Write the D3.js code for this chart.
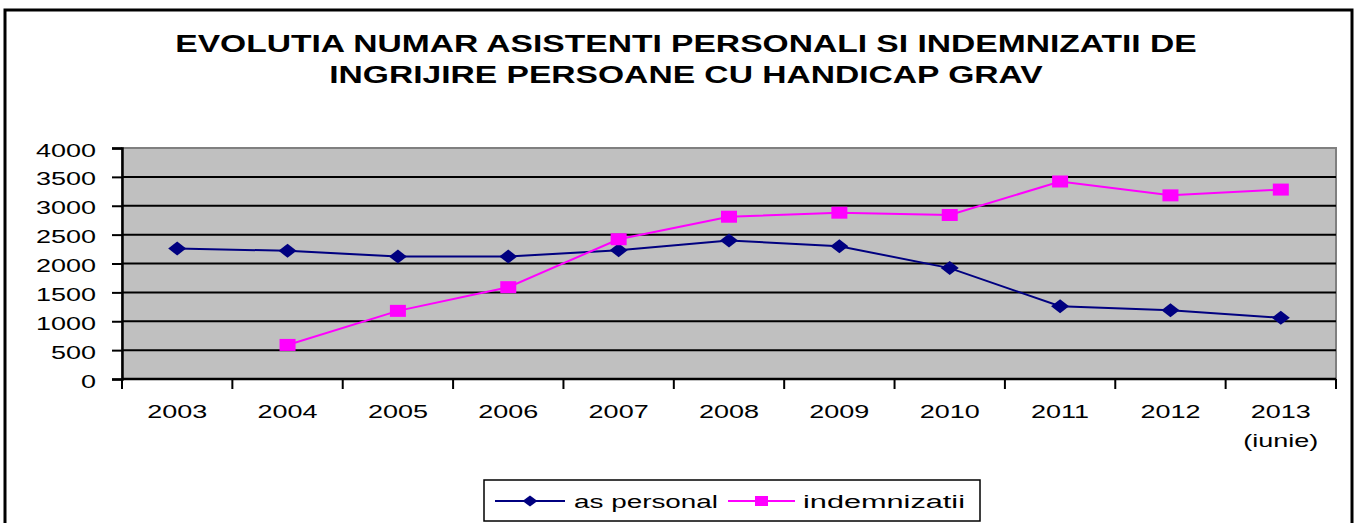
<!DOCTYPE html>
<html>
<head>
<meta charset="utf-8">
<script src="https://cdn.jsdelivr.net/npm/d3@7"></script>
<style>
  html, body { margin: 0; padding: 0; background: #ffffff; }
  svg { display: block; font-family: "Liberation Sans", Arial, sans-serif; }
</style>
</head>
<body>
<svg id="chart" width="1360" height="523"></svg>
<script>
// ---- data ----
const categories = ["2003", "2004", "2005", "2006", "2007", "2008", "2009", "2010", "2011", "2012", "2013"];
const categoryLabels = [["2003"], ["2004"], ["2005"], ["2006"], ["2007"], ["2008"], ["2009"], ["2010"], ["2011"], ["2012"], ["2013", "(iunie)"]];
const asPersonal = [2260, 2220, 2120, 2120, 2230, 2400, 2300, 1920, 1260, 1190, 1060];
const indemnizatii = [null, 590, 1180, 1590, 2420, 2810, 2880, 2840, 3420, 3180, 3280];
const yTicks = [0, 500, 1000, 1500, 2000, 2500, 3000, 3500, 4000];
const titleLines = ["EVOLUTIA NUMAR ASISTENTI PERSONALI SI INDEMNIZATII DE", "INGRIJIRE PERSOANE CU HANDICAP GRAV"];
const seriesNames = ["as personal", "indemnizatii"];

// ---- layout ----
const plot = { left: 122, right: 1336, top: 148, bottom: 379 };
const SX = 1.5; // horizontal text stretch of the reference

const svg = d3.select("#chart");

// outer chart border
svg.append("rect")
  .attr("x", 5).attr("y", 10)
  .attr("width", 1347).attr("height", 540)
  .attr("fill", "#fff").attr("stroke", "#000").attr("stroke-width", 3);

// title
titleLines.forEach((t, i) => {
  svg.append("text")
    .attr("transform", `translate(686, ${52 + i * 31}) scale(1.4,1)`)
    .attr("text-anchor", "middle")
    .attr("font-size", 24)
    .attr("font-weight", "bold")
    .attr("fill", "#000")
    .text(t);
});

// scales
const x = d3.scaleBand().domain(categories).range([plot.left, plot.right]).padding(0);
const y = d3.scaleLinear().domain([0, 4000]).range([plot.bottom, plot.top]);

// plot background
svg.append("rect")
  .attr("x", plot.left).attr("y", plot.top)
  .attr("width", plot.right - plot.left).attr("height", plot.bottom - plot.top)
  .attr("fill", "#c0c0c0").attr("stroke", "#808080").attr("stroke-width", 2);

// gridlines
svg.append("g").selectAll("line")
  .data(yTicks.filter(v => v > 0 && v < 4000))
  .join("line")
  .attr("x1", plot.left).attr("x2", plot.right)
  .attr("y1", d => y(d)).attr("y2", d => y(d))
  .attr("stroke", "#000").attr("stroke-width", 2);

// y axis
const yAxis = svg.append("g")
  .attr("transform", `translate(${plot.left},0)`)
  .call(d3.axisLeft(y).tickValues(yTicks).tickSize(10).tickFormat(d3.format("d")));
yAxis.select(".domain").attr("stroke", "#000").attr("stroke-width", 2.5);
yAxis.selectAll(".tick line").attr("stroke", "#000").attr("stroke-width", 2);
yAxis.selectAll(".tick text")
  .attr("x", null).attr("dy", null)
  .attr("transform", `translate(-26,8) scale(${SX},1)`)
  .attr("text-anchor", "end")
  .attr("font-size", 18)
  .attr("font-family", "Liberation Sans, Arial, sans-serif")
  .attr("fill", "#000");

// x axis (ticks at category boundaries)
const xAxisG = svg.append("g");
xAxisG.append("line")
  .attr("x1", plot.left).attr("x2", plot.right)
  .attr("y1", plot.bottom).attr("y2", plot.bottom)
  .attr("stroke", "#000").attr("stroke-width", 2.5);
const boundaries = categories.map(c => x(c)).concat([x(categories[categories.length - 1]) + x.bandwidth()]);
xAxisG.selectAll("line.tk")
  .data(boundaries)
  .join("line").attr("class", "tk")
  .attr("x1", d => d).attr("x2", d => d)
  .attr("y1", plot.bottom).attr("y2", plot.bottom + 10)
  .attr("stroke", "#000").attr("stroke-width", 2);
categories.forEach((c, i) => {
  categoryLabels[i].forEach((t, j) => {
    xAxisG.append("text")
      .attr("transform", `translate(${x(c) + x.bandwidth() / 2}, ${418 + j * 29}) scale(${SX},1)`)
      .attr("text-anchor", "middle")
      .attr("font-size", 18)
      .attr("fill", "#000")
      .text(t);
  });
});

const cx = c => x(c) + x.bandwidth() / 2;

// markers
const diamond = (w, h) => `M${-w / 2},0L0,${-h / 2}L${w / 2},0L0,${h / 2}Z`;
const square = (w, h) => `M${-w / 2},${-h / 2}h${w}v${h}h${-w}Z`;

const ap = categories.map((c, i) => ({ c, v: asPersonal[i] }));
const ind = categories.map((c, i) => ({ c, v: indemnizatii[i] })).filter(d => d.v != null);

const line = d3.line().x(d => cx(d.c)).y(d => y(d.v));

svg.append("path").datum(ap)
  .attr("d", line).attr("fill", "none")
  .attr("stroke", "#000080").attr("stroke-width", 2);
svg.append("path").datum(ind)
  .attr("d", line).attr("fill", "none")
  .attr("stroke", "#ff00ff").attr("stroke-width", 2);

svg.append("g").selectAll("path")
  .data(ap).join("path")
  .attr("transform", d => `translate(${cx(d.c)},${y(d.v)})`)
  .attr("d", diamond(18, 14))
  .attr("fill", "#000080");
svg.append("g").selectAll("path")
  .data(ind).join("path")
  .attr("transform", d => `translate(${cx(d.c)},${y(d.v)})`)
  .attr("d", square(16, 12))
  .attr("fill", "#ff00ff");

// legend
const lg = svg.append("g");
lg.append("rect")
  .attr("x", 484).attr("y", 480).attr("width", 496).attr("height", 41)
  .attr("fill", "#fff").attr("stroke", "#000").attr("stroke-width", 1.5);
const legendItems = [
  { name: seriesNames[0], color: "#000080", x0: 495, x1: 565, marker: diamond(15, 11), tx: 574, tw: 144 },
  { name: seriesNames[1], color: "#ff00ff", x0: 728, x1: 795, marker: square(13, 10), tx: 803, tw: 162 }
];
legendItems.forEach(it => {
  lg.append("line")
    .attr("x1", it.x0).attr("x2", it.x1).attr("y1", 501).attr("y2", 501)
    .attr("stroke", it.color).attr("stroke-width", 2);
  lg.append("path")
    .attr("transform", `translate(${(it.x0 + it.x1) / 2},501)`)
    .attr("d", it.marker).attr("fill", it.color);
  lg.append("text")
    .attr("x", it.tx).attr("y", 508)
    .attr("textLength", it.tw).attr("lengthAdjust", "spacingAndGlyphs")
    .attr("font-size", 18).attr("fill", "#000")
    .text(it.name);
});
</script>
</body>
</html>
